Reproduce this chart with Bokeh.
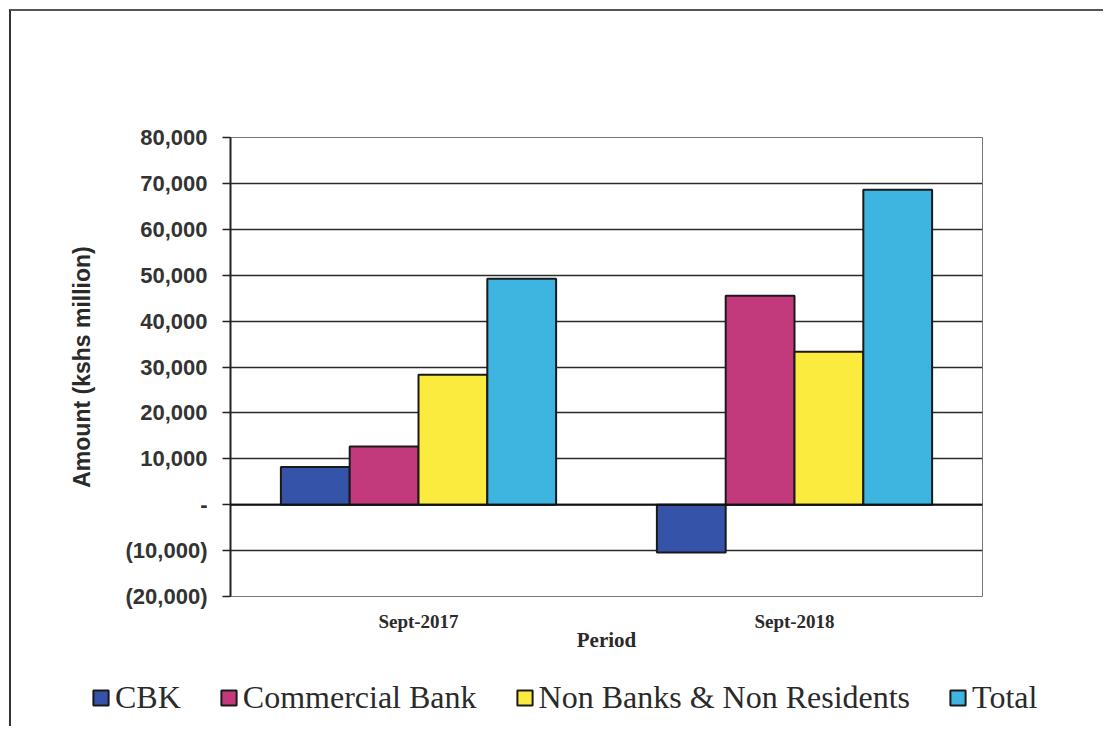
import numpy as np
from bokeh.plotting import figure
from bokeh.models import ColumnDataSource, FactorRange, Legend, LegendItem, Span, FixedTicker, Range1d
from bokeh.transform import dodge
from bokeh.embed import file_html
from bokeh.resources import INLINE

periods = ["Sept-2017", "Sept-2018"]
series = ["CBK", "Commercial Bank", "Non Banks & Non Residents", "Total"]
cbk = [8200, -10400]
commercial = [12700, 45500]
non_banks = [28300, 33300]
total = [49200, 68600]
colors = ["#3553A8", "#C23A7C", "#FCEB3F", "#3DB5E0"]
y_ticks = [-20000, -10000, 0, 10000, 20000, 30000, 40000, 50000, 60000, 70000, 80000]
y_tick_labels = ["(20,000)", "(10,000)", "-", "10,000", "20,000", "30,000", "40,000", "50,000", "60,000", "70,000", "80,000"]

src = ColumnDataSource(dict(period=periods, cbk=cbk, commercial=commercial,
                            non_banks=non_banks, total=total))

p = figure(x_range=FactorRange(*periods, range_padding=0), y_range=Range1d(-20000, 80000),
           frame_width=752, frame_height=459,
           min_border_left=219, min_border_top=126, min_border_right=121, min_border_bottom=70,
           output_backend="svg", toolbar_location=None, background_fill_color="white",
           border_fill_color="white")
p.styles = {"border-left": "2px solid #333", "border-top": "2px solid #555",
            "margin-left": "9px", "margin-top": "9px"}

bar_w = 0.183
offsets = [-1.5 * bar_w, -0.5 * bar_w, 0.5 * bar_w, 1.5 * bar_w]
fields = ["cbk", "commercial", "non_banks", "total"]
for f, off, c in zip(fields, offsets, colors):
    p.vbar(x=dodge("period", off, range=p.x_range), top=f, bottom=0, width=bar_w,
           source=src, fill_color=c, line_color="#1a1a1a", line_width=2)

# grid
p.xgrid.grid_line_color = None
p.ygrid.grid_line_color = "#2a2a2a"
p.ygrid.grid_line_width = 1.3
p.ygrid.ticker = FixedTicker(ticks=y_ticks)
p.outline_line_color = "#777777"
p.outline_line_width = 1

zero = Span(location=0, dimension="width", line_color="#111111", line_width=2)
p.add_layout(zero)

# y axis
yax = p.yaxis[0]
yax.ticker = FixedTicker(ticks=y_ticks)
yax.major_label_overrides = {t: l for t, l in zip(y_ticks, y_tick_labels)}
yax.minor_tick_line_color = None
yax.major_tick_out = 8
yax.major_tick_in = 0
yax.major_tick_line_color = "#222222"
yax.major_tick_line_width = 1.3
yax.axis_line_color = "#222222"
yax.axis_line_width = 2
yax.major_label_text_font = "Liberation Sans"
yax.major_label_text_font_size = "22px"
yax.major_label_text_font_style = "bold"
yax.major_label_text_color = "#333333"
yax.major_label_standoff = 15
yax.axis_label = "Amount (kshs million)"
yax.axis_label_text_font = "Liberation Sans"
yax.axis_label_text_font_size = "23px"
yax.axis_label_text_font_style = "bold"
yax.axis_label_text_color = "#2a2a2a"
yax.axis_label_standoff = 28

# x axis
xax = p.xaxis[0]
xax.axis_line_color = None
xax.major_tick_line_color = None
xax.minor_tick_line_color = None
xax.major_label_text_font = "Liberation Serif"
xax.major_label_text_font_size = "19px"
xax.major_label_text_font_style = "bold"
xax.major_label_text_color = "#2a2a2a"
xax.major_label_standoff = 8
xax.axis_label = "Period"
xax.axis_label_text_font = "Liberation Serif"
xax.axis_label_text_font_size = "21px"
xax.axis_label_text_font_style = "bold"
xax.axis_label_text_color = "#2a2a2a"
xax.axis_label_standoff = -7

# legend strip below the chart
p2 = figure(width=1092, height=60, x_range=Range1d(0, 1), y_range=Range1d(0, 1),
            x_axis_location=None, y_axis_location=None, min_border=0,
            output_backend="svg", toolbar_location=None, outline_line_color=None,
            background_fill_color="white", border_fill_color="white")
p2.styles = {"border-left": "2px solid #333", "margin-left": "9px"}
p2.grid.visible = False
leg_renderers = []
for c in colors:
    leg_renderers.append(p2.vbar(x=np.array([0.5]), top=np.array([np.nan]), width=0.1,
                                 fill_color=c, line_color="#1a1a1a", line_width=2))
items = [LegendItem(label=s, renderers=[r]) for s, r in zip(series, leg_renderers)]
legend = Legend(items=items, orientation="horizontal", location=(80, 10),
                label_text_font="Liberation Serif", label_text_font_size="32px",
                label_text_color="#2a2a2a", glyph_width=19, glyph_height=19,
                label_standoff=5, spacing=38, padding=4, border_line_color=None,
                background_fill_alpha=0, margin=0)
p2.add_layout(legend)

open("out.html", "w").write(file_html([p, p2], INLINE))
